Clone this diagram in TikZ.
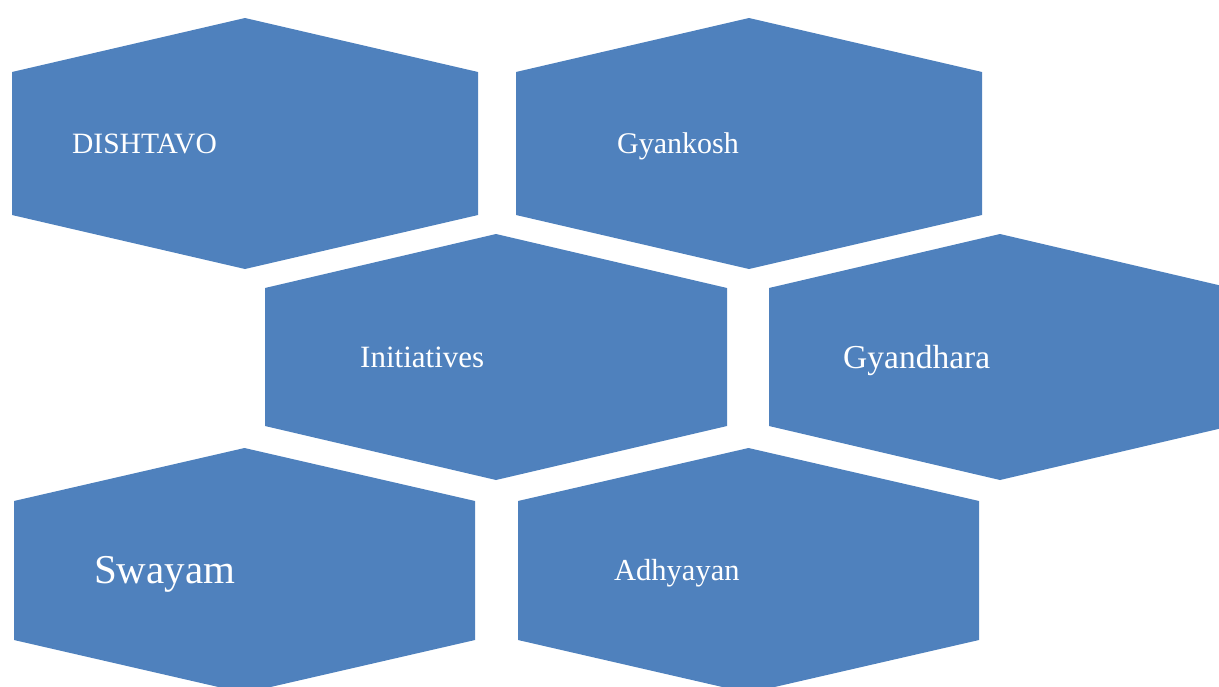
\documentclass[tikz,border=0pt]{standalone}
\usepackage{fontspec}
\setmainfont{Liberation Serif}
\definecolor{hexblue}{HTML}{4F81BD}
% hexagon with pointed top and bottom: centre x, centre y, half width, shoulder, point
\newcommand{\hexcell}[5]{
  (#1,#2-#5) -- (#1+#3,#2-#4) -- (#1+#3,#2+#4) -- (#1,#2+#5)
  -- (#1-#3,#2+#4) -- (#1-#3,#2-#4) -- cycle
}
\tikzset{
  cellfill/.style={fill=hexblue,draw=none},
  celltext/.style={text=white,inner sep=0pt,anchor=base west}
}
\begin{document}
\begin{tikzpicture}[x=1pt,y=-1pt]
\useasboundingbox (0,0) rectangle (1219,686);
\begin{scope}
\clip (0,0) rectangle (1219,686);
\foreach \cx/\cy/\hw/\sh/\pt in {245/143.5/233/71.5/125.5, 749/143.5/233/71.5/125.5,
    496/357/231/69/123, 1000/357/231/69/123,
    244.5/570.5/230.5/69.5/122.5, 748.5/570.5/230.5/69.5/122.5}
  \fill[cellfill] \hexcell{\cx}{\cy}{\hw}{\sh}{\pt};
\end{scope}
\node[celltext,font=\fontsize{29.5}{36}\selectfont] (dishtavo) at (72,153) {DISHTAVO};
\node[celltext,font=\fontsize{30}{36}\selectfont] (gyankosh) at (617,153) {Gyankosh};
\node[celltext,font=\fontsize{31}{36}\selectfont] (initiatives) at (360,367) {Initiatives};
\node[celltext,font=\fontsize{33.5}{40}\selectfont] (gyandhara) at (843,368) {Gyandhara};
\node[celltext,font=\fontsize{41}{48}\selectfont] (swayam) at (94,583) {Swayam};
\node[celltext,font=\fontsize{30.5}{36}\selectfont] (adhyayan) at (614,580) {Adhyayan};
\end{tikzpicture}
\end{document}
